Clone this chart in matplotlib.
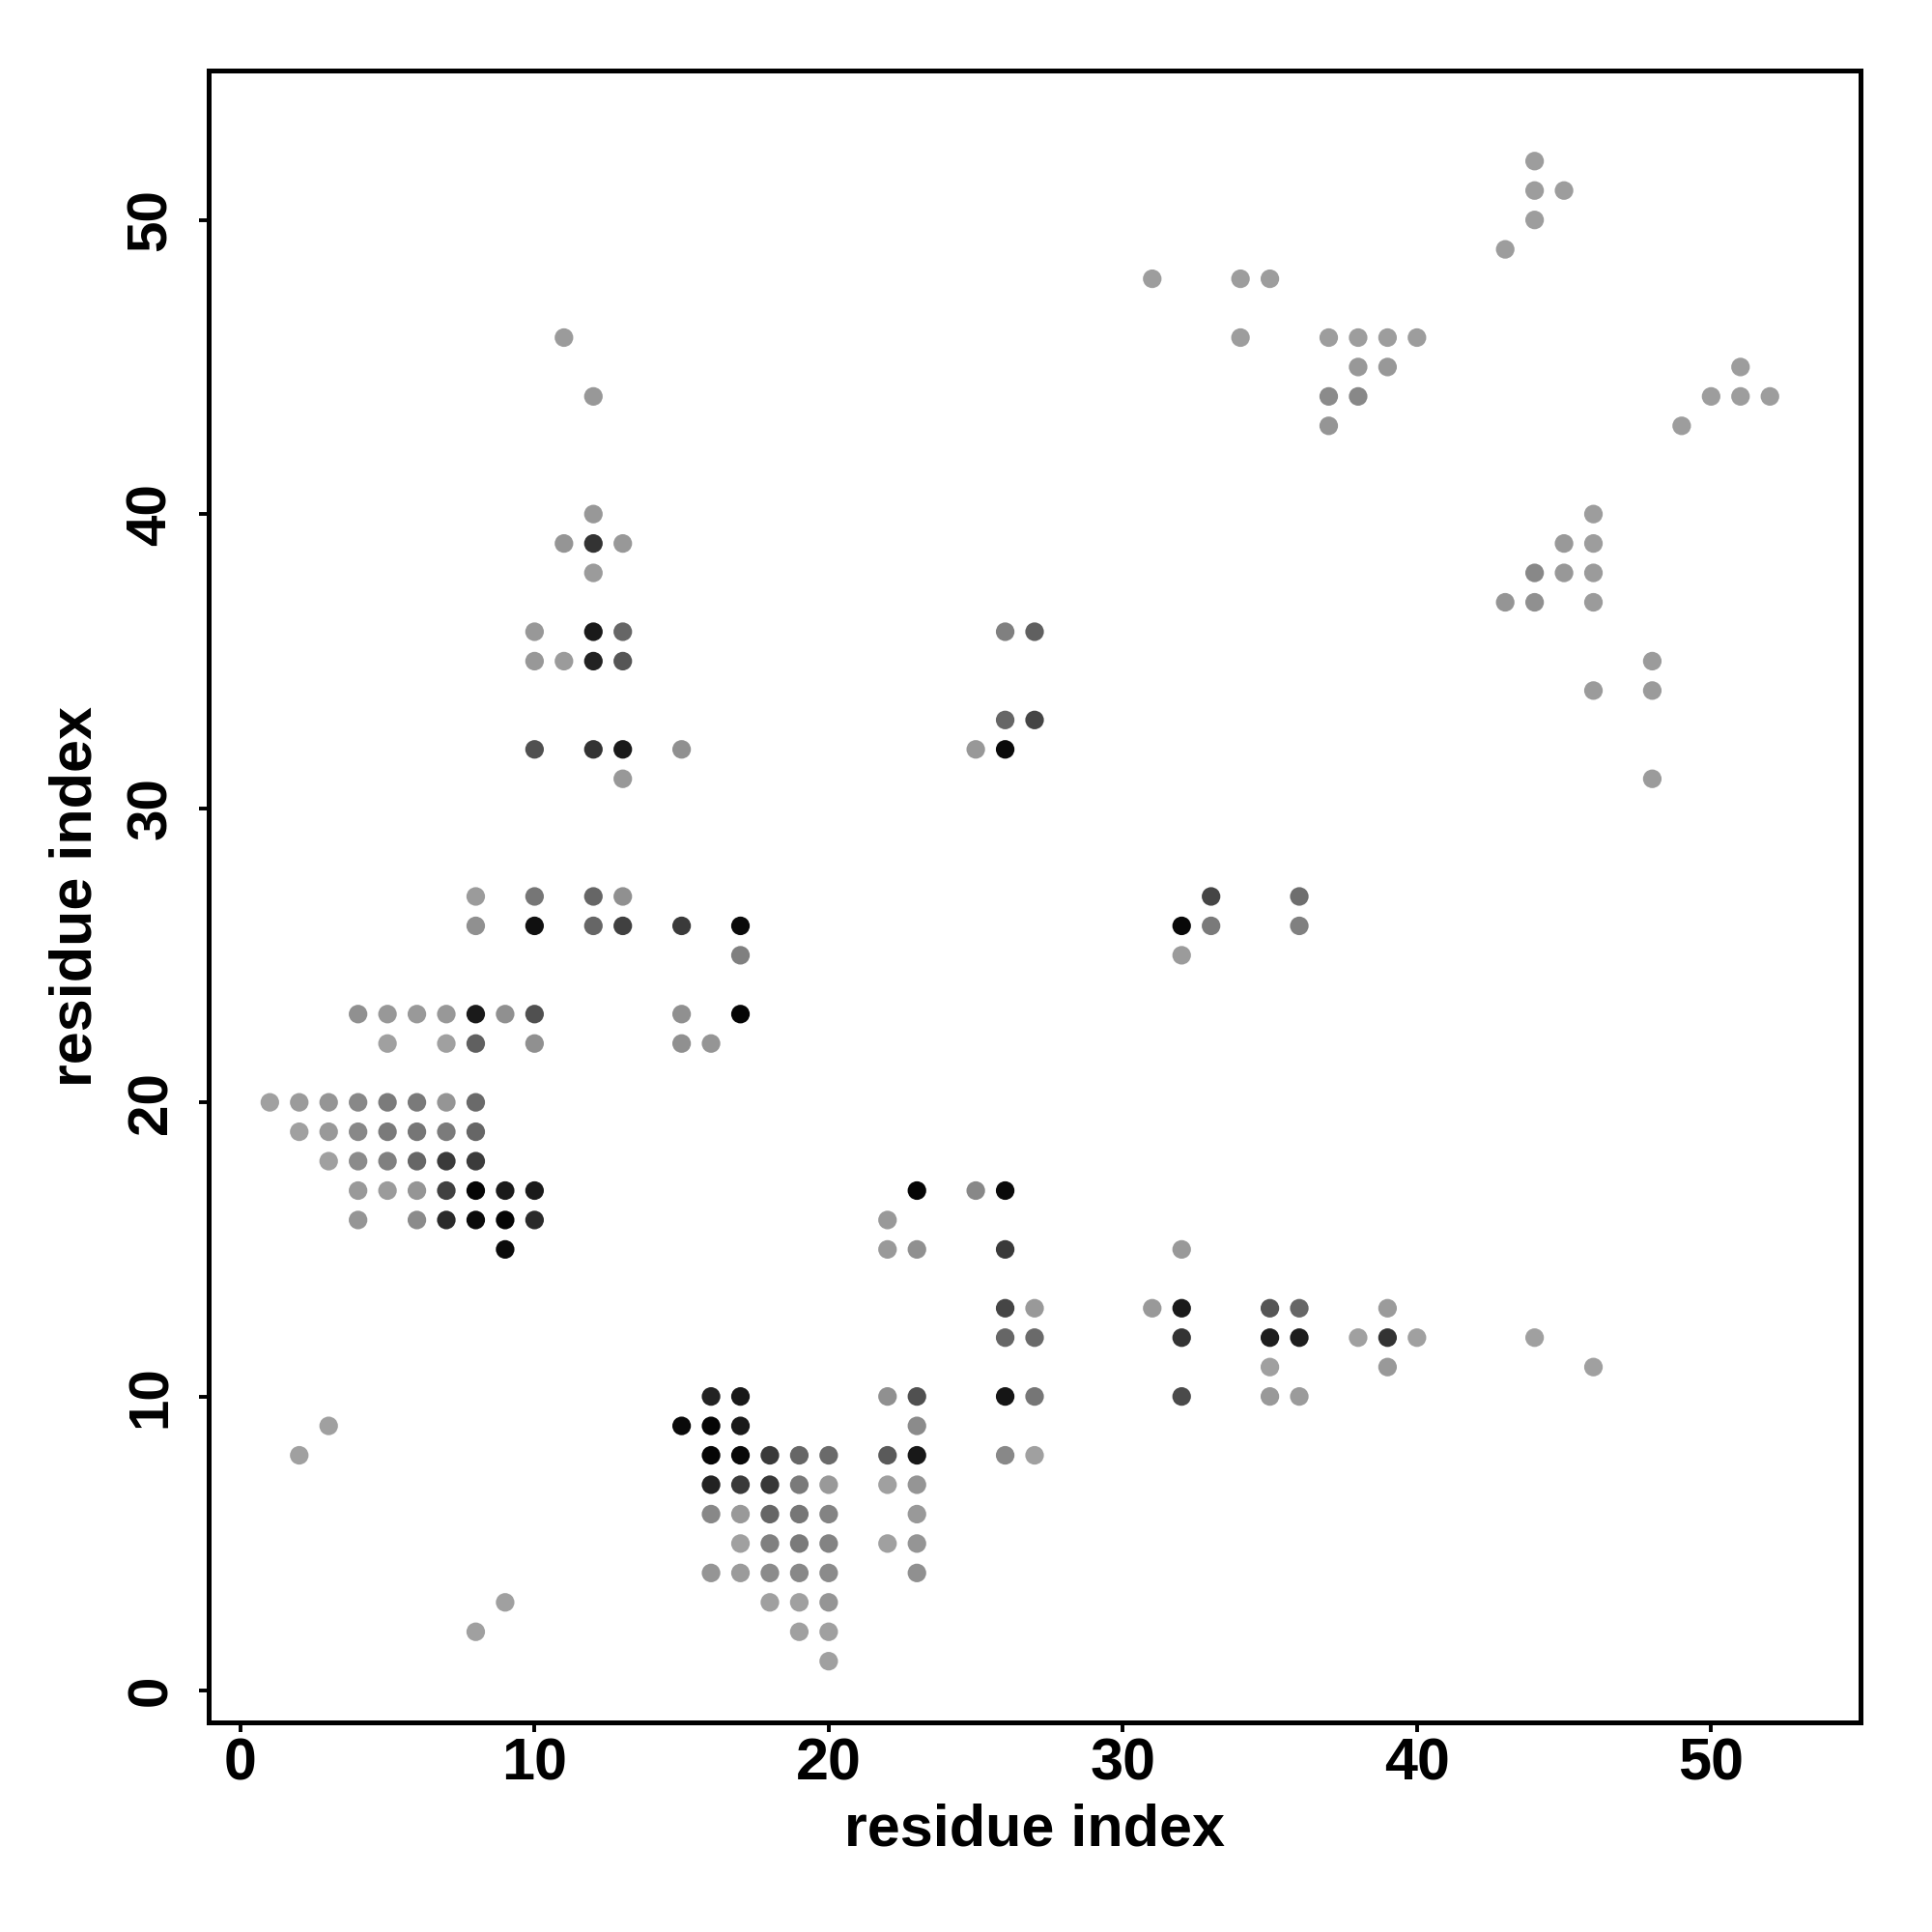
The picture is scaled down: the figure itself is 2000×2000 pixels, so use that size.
import matplotlib
matplotlib.use("Agg")
import matplotlib.pyplot as plt
import numpy as np

# residue i, residue j, contact strength (0 = weak/light, 1 = strong/black)
res_i = [44, 44, 45, 44, 43, 31, 34, 35,
         11, 34, 37, 38, 39, 40,
         38, 39, 51,
         12, 37, 38, 50, 51, 52,
         37, 49,
         12, 46,
         11, 12, 13, 45, 46,
         12, 44, 45, 46,
         43, 44, 46,
         10, 12, 13, 26, 27,
         10, 11, 12, 13, 48,
         46, 48,
         26, 27,
         10, 12, 13, 15, 25, 26,
         13, 48,
         8, 10, 12, 13, 33, 36,
         8, 10, 12, 13, 15, 17, 32, 33, 36,
         17, 32,
         4, 5, 6, 7, 8, 9, 10, 15, 17,
         5, 7, 8, 10, 15, 16,
         1, 2, 3, 4, 5, 6, 7, 8,
         2, 3, 4, 5, 6, 7, 8,
         3, 4, 5, 6, 7, 8,
         4, 5, 6, 7, 8, 9, 10, 23, 25, 26,
         4, 6, 7, 8, 9, 10, 22,
         9, 22, 23, 26, 32,
         26, 27, 31, 32, 35, 36, 39,
         26, 27, 32, 35, 36, 38, 39, 40, 44,
         35, 39, 46,
         16, 17, 22, 23, 26, 27, 32, 35, 36,
         3, 15, 16, 17, 23,
         2, 16, 17, 18, 19, 20, 22, 23, 26, 27,
         16, 17, 18, 19, 20, 22, 23,
         16, 17, 18, 19, 20, 23,
         17, 18, 19, 20, 22, 23,
         16, 17, 18, 19, 20, 23,
         9, 18, 19, 20,
         8, 19, 20,
         20]
res_j = [52, 51, 51, 50, 49, 48, 48, 48,
         46, 46, 46, 46, 46, 46,
         45, 45, 45,
         44, 44, 44, 44, 44, 44,
         43, 43,
         40, 40,
         39, 39, 39, 39, 39,
         38, 38, 38, 38,
         37, 37, 37,
         36, 36, 36, 36, 36,
         35, 35, 35, 35, 35,
         34, 34,
         33, 33,
         32, 32, 32, 32, 32, 32,
         31, 31,
         27, 27, 27, 27, 27, 27,
         26, 26, 26, 26, 26, 26, 26, 26, 26,
         25, 25,
         23, 23, 23, 23, 23, 23, 23, 23, 23,
         22, 22, 22, 22, 22, 22,
         20, 20, 20, 20, 20, 20, 20, 20,
         19, 19, 19, 19, 19, 19, 19,
         18, 18, 18, 18, 18, 18,
         17, 17, 17, 17, 17, 17, 17, 17, 17, 17,
         16, 16, 16, 16, 16, 16, 16,
         15, 15, 15, 15, 15,
         13, 13, 13, 13, 13, 13, 13,
         12, 12, 12, 12, 12, 12, 12, 12, 12,
         11, 11, 11,
         10, 10, 10, 10, 10, 10, 10, 10, 10,
         9, 9, 9, 9, 9,
         8, 8, 8, 8, 8, 8, 8, 8, 8, 8,
         7, 7, 7, 7, 7, 7, 7,
         6, 6, 6, 6, 6, 6,
         5, 5, 5, 5, 5, 5,
         4, 4, 4, 4, 4, 4,
         3, 3, 3, 3,
         2, 2, 2,
         1]
strength = [0.02, 0.02, 0.02, 0.02, 0.02, 0.02, 0.02, 0.02,
            0.03, 0.02, 0.02, 0.02, 0.02, 0.02,
            0.05, 0.05, 0.02,
            0.05, 0.13, 0.15, 0.02, 0.02, 0.02,
            0.07, 0.02,
            0.05, 0.02,
            0.07, 0.68, 0.05, 0.04, 0.02,
            0.03, 0.15, 0.05, 0.03,
            0.07, 0.10, 0.03,
            0.05, 0.84, 0.36, 0.20, 0.40,
            0.05, 0.03, 0.79, 0.47, 0.03,
            0.03, 0.03,
            0.36, 0.57,
            0.50, 0.68, 0.84, 0.10, 0.05, 0.94,
            0.05, 0.03,
            0.03, 0.26, 0.36, 0.10, 0.57, 0.31,
            0.10, 0.90, 0.36, 0.60, 0.64, 0.94, 0.95, 0.24, 0.20,
            0.20, 0.03,
            0.10, 0.05, 0.04, 0.05, 0.84, 0.10, 0.50, 0.10, 0.97,
            0.00, 0.00, 0.40, 0.10, 0.10, 0.07,
            0.00, 0.03, 0.07, 0.15, 0.23, 0.24, 0.07, 0.34,
            0.00, 0.04, 0.15, 0.24, 0.26, 0.23, 0.36,
            0.00, 0.13, 0.20, 0.36, 0.64, 0.63,
            0.04, 0.03, 0.07, 0.60, 0.97, 0.84, 0.84, 0.97, 0.15, 0.94,
            0.07, 0.13, 0.74, 0.94, 0.97, 0.74, 0.04,
            0.94, 0.04, 0.10, 0.64, 0.04,
            0.57, 0.04, 0.04, 0.84, 0.47, 0.36, 0.03,
            0.36, 0.34, 0.68, 0.81, 0.81, 0.00, 0.68, 0.00, 0.00,
            0.00, 0.04, 0.00,
            0.79, 0.85, 0.10, 0.50, 0.87, 0.26, 0.54, 0.04, 0.03,
            0.00, 0.94, 0.97, 0.84, 0.13,
            0.00, 0.97, 0.95, 0.64, 0.36, 0.34, 0.44, 0.85, 0.15, 0.00,
            0.79, 0.64, 0.65, 0.24, 0.04, 0.00, 0.07,
            0.15, 0.04, 0.36, 0.26, 0.18, 0.04,
            0.00, 0.20, 0.24, 0.18, 0.00, 0.07,
            0.07, 0.03, 0.13, 0.15, 0.13, 0.10,
            0.00, 0.00, 0.00, 0.07,
            0.00, 0.00, 0.00,
            0.00]

xticks = [0, 10, 20, 30, 40, 50]
yticks = [0, 10, 20, 30, 40, 50]
axis_label = "residue index"

plt.rcParams['font.family'] = ['Liberation Sans', 'DejaVu Sans']
plt.rcParams['font.weight'] = 'bold'

fig = plt.figure(figsize=(10, 10), dpi=200)
ax = fig.add_axes([0.108, 0.1085, 0.855, 0.855])

s = np.array(strength)
grey = 0.627 * (1.0 - s)
colors = [(g, g, g) for g in grey]
ax.scatter(res_i, res_j, c=colors, s=48, linewidths=0, zorder=2)

ax.set_xlim(-1.08, 55.08)
ax.set_ylim(-1.08, 55.08)
ax.set_xticks(xticks)
ax.set_yticks(yticks)
ax.set_xticklabels([str(t) for t in xticks], fontsize=22, fontweight='bold')
ax.set_yticklabels([str(t) for t in yticks], fontsize=21, fontweight='bold',
                   rotation=90, va='center')
ax.tick_params(axis='both', direction='out', length=3.5, width=1.4)
ax.tick_params(axis='x', pad=2)
ax.tick_params(axis='y', pad=8)
for sp in ax.spines.values():
    sp.set_linewidth(1.8)
ax.set_xlabel(axis_label, fontsize=22, fontweight='bold', labelpad=4)
ax.set_ylabel(axis_label, fontsize=22, fontweight='bold', labelpad=8)

fig.savefig("out.png", dpi=200, facecolor='white')
